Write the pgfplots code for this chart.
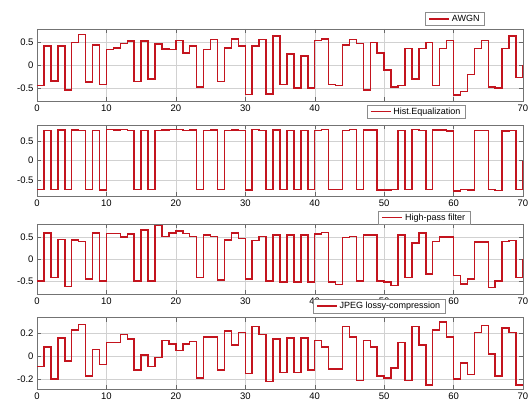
\documentclass[border=0pt]{standalone}
\usepackage{pgfplots}
\pgfplotsset{compat=1.18}
\usepackage{fontspec}
\setmainfont{Liberation Sans}
\definecolor{sig}{RGB}{195,20,30}
\pgfplotsset{
 panel/.style={
  scale only axis, width=486pt,
  xmin=0,xmax=70, xtick={0,10,...,70},
  grid=major, major grid style={black!18, line width=0.4pt},
  axis line style={black!55},
  tick style={black!60},
  tick label style={font=\fontsize{9.5}{11}\selectfont},
  /pgf/number format/assume math mode=true,
  yticklabel style={/pgf/number format/fixed},
  legend style={font=\fontsize{9}{10}\selectfont, draw=black!45, fill=white, inner xsep=3pt, inner ysep=0.5pt, anchor=center, legend cell align=left},
  legend image code/.code={\draw[#1] (0pt,0pt) -- (20pt,0pt);},
  anchor=south west,
 },
 sigline/.style={sig, line width=1.5pt, const plot, no markers},
}
\begin{document}
\begin{tikzpicture}
\useasboundingbox (0,0) rectangle (532pt,405pt);
% Panel 1
\begin{axis}[panel, at={(37pt,303.5pt)}, height=72.5pt, ymin=-0.8, ymax=0.8, ytick={-0.5,0,0.5},
  xticklabels={0,10,20,30,40,,,70}, legend style={at={(0.86,1.14)}}]
\addplot[sigline] coordinates {
(0,-0.45)(1,0.43)(2,-0.35)(3,0.43)(4,-0.55)(5,0.50)(6,0.68)(7,-0.37)(8,0.45)(9,-0.43)
(10,0.35)(11,0.38)(12,0.48)(13,0.53)(14,-0.36)(15,0.53)(16,-0.30)(17,0.47)(18,0.36)(19,0.35)
(20,0.55)(21,0.27)(22,0.42)(23,-0.48)(24,0.35)(25,0.57)(26,-0.36)(27,0.38)(28,0.58)(29,0.42)
(30,-0.65)(31,0.42)(32,0.57)(33,-0.64)(34,0.65)(35,-0.43)(36,0.25)(37,-0.50)(38,0.20)(39,-0.50)
(40,0.55)(41,0.58)(42,-0.42)(43,-0.45)(44,0.45)(45,0.57)(46,0.48)(47,-0.55)(48,0.50)(49,0.27)
(50,-0.10)(51,-0.48)(52,-0.45)(53,0.37)(54,-0.30)(55,0.37)(56,0.50)(57,-0.45)(58,0.37)(59,0.55)
(60,-0.66)(61,-0.58)(62,-0.20)(63,0.37)(64,0.55)(65,-0.48)(66,-0.50)(67,0.37)(68,0.65)(69,-0.27)(70,0.0)};
\addlegendentry{AWGN}
\end{axis}
% Panel 2
\begin{axis}[panel, at={(37pt,209pt)}, height=71pt, ymin=-0.9, ymax=0.9, ytick={-0.5,0,0.5}, legend style={at={(0.78,1.19)}}]
\addplot[sigline] coordinates {
(0,-0.74)(1,0.76)(2,-0.73)(3,0.77)(4,-0.74)(5,0.77)(6,0.76)(7,-0.73)(8,0.76)(9,-0.75)
(10,0.79)(11,0.77)(12,0.78)(13,0.76)(14,-0.74)(15,0.76)(16,-0.73)(17,0.76)(18,0.77)(19,0.78)
(20,0.78)(21,0.76)(22,0.77)(23,-0.73)(24,0.76)(25,0.77)(26,-0.74)(27,0.76)(28,0.77)(29,0.76)
(30,-0.75)(31,0.78)(32,0.76)(33,-0.74)(34,0.77)(35,-0.74)(36,0.76)(37,-0.74)(38,0.76)(39,-0.74)
(40,0.76)(41,0.78)(42,-0.73)(43,-0.74)(44,0.76)(45,0.78)(46,-0.74)(47,0.77)(48,0.77)(49,-0.75)
(50,-0.75)(51,-0.73)(52,0.76)(53,-0.74)(54,0.78)(55,0.76)(56,-0.74)(57,0.77)(58,0.77)(59,0.75)
(60,-0.77)(61,-0.74)(62,-0.75)(63,0.76)(64,0.76)(65,-0.73)(66,-0.76)(67,0.75)(68,0.76)(69,-0.74)(70,0.0)};
\addlegendentry{Hist.Equalization}
\end{axis}
% Panel 3
\begin{axis}[panel, at={(37pt,111pt)}, height=70pt, ymin=-0.8, ymax=0.8, ytick={-0.5,0,0.5}, legend style={at={(0.797,1.09)}}]
\addplot[sigline] coordinates {
(0,-0.50)(1,0.60)(2,-0.42)(3,0.45)(4,-0.63)(5,0.44)(6,0.40)(7,-0.46)(8,0.60)(9,-0.50)
(10,0.58)(11,0.58)(12,0.50)(13,0.57)(14,-0.50)(15,0.66)(16,-0.50)(17,0.77)(18,0.52)(19,0.60)
(20,0.64)(21,0.58)(22,0.52)(23,-0.42)(24,0.55)(25,0.52)(26,-0.48)(27,0.44)(28,0.60)(29,0.47)
(30,-0.46)(31,0.42)(32,0.52)(33,-0.50)(34,0.55)(35,-0.53)(36,0.55)(37,-0.53)(38,0.55)(39,-0.53)
(40,0.57)(41,0.61)(42,-0.53)(43,-0.58)(44,0.49)(45,0.52)(46,-0.50)(47,0.55)(48,0.55)(49,-0.50)
(50,-0.53)(51,-0.60)(52,0.55)(53,-0.42)(54,0.37)(55,0.60)(56,-0.34)(57,0.40)(58,0.50)(59,0.50)
(60,-0.38)(61,-0.57)(62,-0.46)(63,0.39)(64,0.39)(65,-0.65)(66,-0.50)(67,0.40)(68,0.42)(69,-0.42)(70,0.0)};
\addlegendentry{High-pass filter}
\end{axis}
% Panel 4
\begin{axis}[panel, at={(37pt,15.5pt)}, height=72pt, ymin=-0.29, ymax=0.34, ytick={-0.2,0,0.2}, legend style={at={(0.704,1.157)}}]
\addplot[sigline] coordinates {
(0,-0.09)(1,0.08)(2,-0.20)(3,0.16)(4,-0.04)(5,0.23)(6,0.28)(7,-0.17)(8,0.06)(9,-0.07)
(10,0.12)(11,0.12)(12,0.19)(13,0.15)(14,-0.12)(15,0.01)(16,-0.09)(17,-0.01)(18,0.14)(19,0.11)
(20,0.05)(21,0.11)(22,0.13)(23,-0.19)(24,0.17)(25,0.17)(26,-0.12)(27,0.22)(28,0.10)(29,0.21)
(30,-0.15)(31,0.26)(32,0.19)(33,-0.22)(34,0.15)(35,-0.14)(36,0.16)(37,-0.14)(38,0.16)(39,-0.12)
(40,0.14)(41,0.08)(42,-0.11)(43,-0.11)(44,0.26)(45,0.17)(46,-0.21)(47,0.14)(48,0.08)(49,-0.17)
(50,-0.19)(51,-0.10)(52,0.12)(53,-0.21)(54,0.26)(55,0.10)(56,-0.25)(57,0.23)(58,0.30)(59,0.17)
(60,-0.20)(61,-0.06)(62,-0.16)(63,0.21)(64,0.27)(65,0.02)(66,-0.17)(67,0.25)(68,0.21)(69,-0.25)(70,-0.25)};
\addlegendentry{JPEG lossy-compression}
\end{axis}
\end{tikzpicture}
\end{document}
